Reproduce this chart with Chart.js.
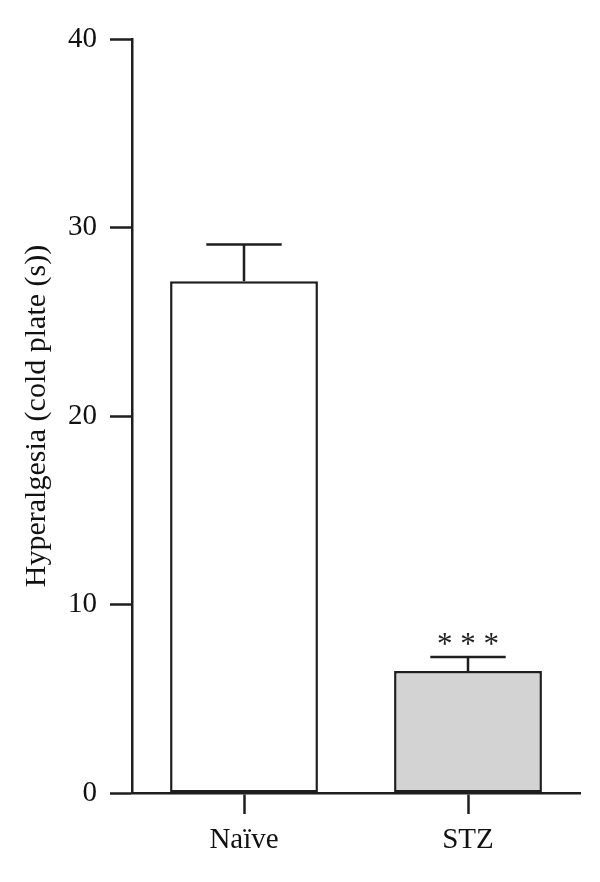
<!DOCTYPE html>
<html>
<head>
<meta charset="utf-8">
<script src="https://cdn.jsdelivr.net/npm/chart.js@4"></script>
<style>
  html, body { margin: 0; padding: 0; background: #ffffff; }
  #wrap { width: 600px; height: 882px; position: relative; }
</style>
</head>
<body>
<div id="wrap"><canvas id="c" width="600" height="882"></canvas></div>
<script>
const categories = ['Naïve', 'STZ'];
const meanValues = [27.15, 6.47];
const semValues = [1.95, 0.74];
const significance = ['', '***'];
const barFills = ['#ffffff', '#d3d3d3'];
const yMin = 0, yMax = 40, yStep = 10;
const yAxisTitle = 'Hyperalgesia (cold plate (s))';

const ink = '#1e1e1e';
const serif = '"Liberation Serif", "DejaVu Serif", serif';

const errorBarPlugin = {
  id: 'errorBars',
  afterDatasetsDraw(chart) {
    const ctx = chart.ctx;
    const meta = chart.getDatasetMeta(0);
    const yScale = chart.scales.y;
    ctx.save();
    ctx.strokeStyle = ink;
    ctx.lineWidth = 2.5;
    meta.data.forEach((bar, i) => {
      const x = bar.x;
      const yTop = yScale.getPixelForValue(meanValues[i] + semValues[i]);
      const yBar = yScale.getPixelForValue(meanValues[i]);
      const half = bar.width * 0.255;
      ctx.beginPath();
      ctx.moveTo(x, yBar);
      ctx.lineTo(x, yTop);
      ctx.moveTo(x - half, yTop);
      ctx.lineTo(x + half, yTop);
      ctx.stroke();
      if (significance[i]) {
        ctx.fillStyle = ink;
        ctx.font = '31px ' + serif;
        ctx.textAlign = 'center';
        ctx.textBaseline = 'alphabetic';
        const txt = significance[i].split('').join(' ');
        ctx.fillText(txt, x, yTop - 3);
      }
    });
    ctx.restore();
  }
};

new Chart(document.getElementById('c'), {
  type: 'bar',
  data: {
    labels: categories,
    datasets: [{
      data: meanValues,
      backgroundColor: barFills,
      borderColor: ink,
      borderWidth: 2.5,
      borderSkipped: false,
      barPercentage: 0.66,
      categoryPercentage: 1.0
    }]
  },
  options: {
    responsive: false,
    animation: false,
    devicePixelRatio: 1,
    layout: { padding: { top: 39, right: 20, left: 0, bottom: 0 } },
    plugins: {
      legend: { display: false },
      tooltip: { enabled: false }
    },
    scales: {
      x: {
        grid: {
          display: true,
          drawOnChartArea: false,
          drawTicks: true,
          tickLength: 21,
          tickWidth: 2.5,
          tickColor: ink,
          offset: false
        },
        border: { display: true, color: ink, width: 2.5 },
        ticks: {
          color: '#111',
          font: { family: serif, size: 29 },
          padding: 9
        },
        afterFit(scale) { scale.height = 89; }
      },
      y: {
        min: yMin,
        max: yMax,
        grid: {
          display: true,
          drawOnChartArea: false,
          drawTicks: true,
          tickLength: 22,
          tickWidth: 2.5,
          tickColor: ink
        },
        border: { display: true, color: ink, width: 2.5 },
        ticks: {
          stepSize: yStep,
          color: '#111',
          font: { family: serif, size: 29 },
          padding: 13
        },
        title: {
          display: true,
          text: yAxisTitle,
          color: '#111',
          font: { family: serif, size: 30 },
          padding: { top: 19, bottom: 0 }
        },
        afterFit(scale) { scale.width = 132; }
      }
    }
  },
  plugins: [errorBarPlugin]
});
</script>
</body>
</html>
